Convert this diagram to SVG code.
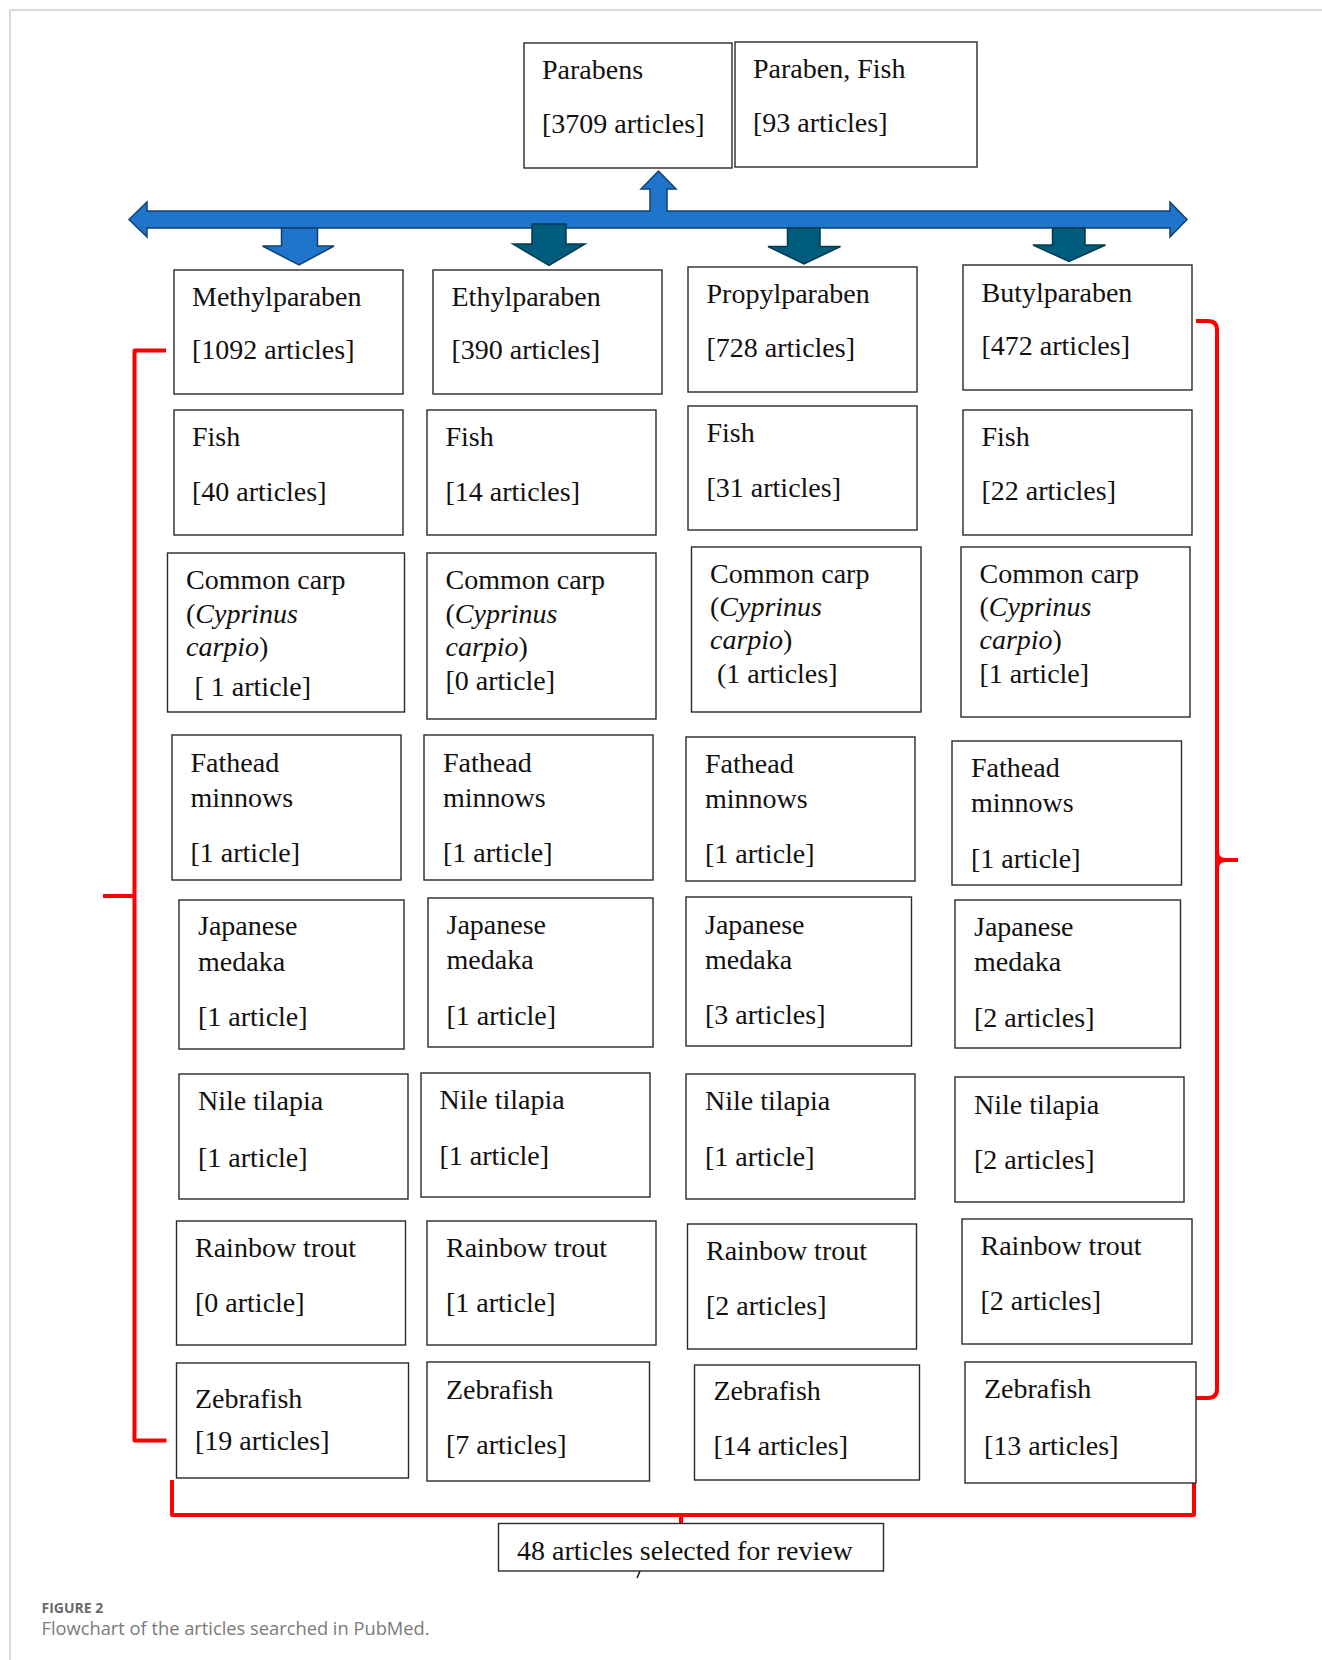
<svg xmlns="http://www.w3.org/2000/svg" width="1322" height="1660" viewBox="0 0 1322 1660">
<style>
.box{fill:#fff;stroke:#2a2a2a;stroke-width:1.4}
.t{font-family:"Liberation Serif","Times New Roman",serif;font-size:28px;fill:#111}
.i{font-style:italic}
.red{fill:none;stroke:#ff0000;stroke-width:4;stroke-linejoin:round}
.ab{fill:#1f75cc;stroke:#123f6e;stroke-width:1.5}
.ad{fill:#005c7c;stroke:#003a50;stroke-width:1.5}
.cap1{font-family:"Open Sans","Noto Sans",sans-serif;font-size:14px;font-weight:bold;fill:#6a6a6a}
.cap2{font-family:"Open Sans","Noto Sans",sans-serif;font-size:18.3px;fill:#7a7a7a}
</style>
<rect width="1322" height="1660" fill="#fff"/>
<path d="M10,1660 V10 H1322" fill="none" stroke="#cfcfcf" stroke-width="1.5"/>

<g id="connectors">
  <path class="ab" d="M129,219.5 L147,202 V211 H650 V189 H641 L658.5,171 L676,189 H667 V211 H1170 V202 L1187,219.5 L1170,237 V228 H147 V237 Z"/>
  <path class="ab" d="M281.5,228 H317.5 V246 H334 L299,265 L262.5,246 H281.5 Z"/>
  <path class="ad" d="M532,224 H566 V244 H585 L549,265.5 L513,244 H532 Z"/>
  <path class="ad" d="M787.5,228 H820 V246.5 H840.5 L804,264 L768,246.5 H787.5 Z"/>
  <path class="ad" d="M1052.5,228 H1085 V245 H1105.5 L1069,261.5 L1033,245 H1052.5 Z"/>
  <path class="red" d="M166,350.5 H134.5 V1440.5 H166.5"/>
  <path class="red" d="M134.5,896 H103"/>
  <path class="red" d="M1196,321 H1208 Q1217,321 1217,330 V1389 Q1217,1398 1208,1398 H1196"/>
  <path class="red" d="M1217,852 Q1217,860 1226,860 H1238 M1217,868 Q1217,860 1226,860" stroke-width="3.5"/>
  <path class="red" d="M172,1480 V1515 H1194 V1480 M681,1515 V1523.5"/>
  <path d="M640,1571 L637,1578" stroke="#111" stroke-width="1.5"/>
</g>

<g id="n-parabens"><rect class="box" x="524" y="43" width="208" height="125"/>
<text class="t" x="542" y="79">Parabens</text><text class="t" x="542" y="133">[3709 articles]</text></g>
<g id="n-paraben-fish"><rect class="box" x="735" y="42" width="242" height="125"/>
<text class="t" x="753" y="78">Paraben, Fish</text><text class="t" x="753" y="132">[93 articles]</text></g>

<g id="n-methyl"><rect class="box" x="174" y="270" width="229" height="124"/>
<text class="t" x="192" y="306">Methylparaben</text><text class="t" x="192" y="359">[1092 articles]</text></g>
<g id="n-ethyl"><rect class="box" x="433" y="270" width="229" height="124"/>
<text class="t" x="451.5" y="306">Ethylparaben</text><text class="t" x="451.5" y="359">[390 articles]</text></g>
<g id="n-propyl"><rect class="box" x="688" y="267" width="229" height="125"/>
<text class="t" x="706.5" y="302.5">Propylparaben</text><text class="t" x="706.5" y="356.5">[728 articles]</text></g>
<g id="n-butyl"><rect class="box" x="963" y="265" width="229" height="125"/>
<text class="t" x="981.5" y="301.5">Butylparaben</text><text class="t" x="981.5" y="355">[472 articles]</text></g>

<g id="n-fish1"><rect class="box" x="174" y="410" width="229" height="125"/>
<text class="t" x="192" y="446">Fish</text><text class="t" x="192" y="500.5">[40 articles]</text></g>
<g id="n-fish2"><rect class="box" x="427" y="410" width="229" height="125"/>
<text class="t" x="445.5" y="446">Fish</text><text class="t" x="445.5" y="500.5">[14 articles]</text></g>
<g id="n-fish3"><rect class="box" x="688" y="406" width="229" height="124"/>
<text class="t" x="706.5" y="441.5">Fish</text><text class="t" x="706.5" y="496.5">[31 articles]</text></g>
<g id="n-fish4"><rect class="box" x="963" y="410" width="229" height="125"/>
<text class="t" x="981.5" y="445.5">Fish</text><text class="t" x="981.5" y="500">[22 articles]</text></g>

<g id="n-carp1"><rect class="box" x="167.5" y="553" width="237" height="159"/>
<text class="t" x="186" y="589">Common carp</text><text class="t" x="186" y="622.5">(<tspan class="i">Cyprinus</tspan></text><text class="t" x="186" y="655.5"><tspan class="i">carpio</tspan>)</text><text class="t" x="194.5" y="696">[ 1 article]</text></g>
<g id="n-carp2"><rect class="box" x="427" y="553" width="229" height="166"/>
<text class="t" x="445.5" y="589">Common carp</text><text class="t" x="445.5" y="622.5">(<tspan class="i">Cyprinus</tspan></text><text class="t" x="445.5" y="655.5"><tspan class="i">carpio</tspan>)</text><text class="t" x="445.5" y="690">[0 article]</text></g>
<g id="n-carp3"><rect class="box" x="691.5" y="547" width="229.5" height="165"/>
<text class="t" x="710" y="583">Common carp</text><text class="t" x="710" y="616">(<tspan class="i">Cyprinus</tspan></text><text class="t" x="710" y="648.5"><tspan class="i">carpio</tspan>)</text><text class="t" x="717" y="682.5">(1 articles]</text></g>
<g id="n-carp4"><rect class="box" x="961" y="547" width="229" height="170"/>
<text class="t" x="979.5" y="583">Common carp</text><text class="t" x="979.5" y="616">(<tspan class="i">Cyprinus</tspan></text><text class="t" x="979.5" y="648.5"><tspan class="i">carpio</tspan>)</text><text class="t" x="979.5" y="682.5">[1 article]</text></g>

<g id="n-fathead1"><rect class="box" x="172" y="735" width="229" height="145"/>
<text class="t" x="190.5" y="771.5">Fathead</text><text class="t" x="190.5" y="806.5">minnows</text><text class="t" x="190.5" y="861.5">[1 article]</text></g>
<g id="n-fathead2"><rect class="box" x="424" y="735" width="229" height="145"/>
<text class="t" x="443" y="771.5">Fathead</text><text class="t" x="443" y="806.5">minnows</text><text class="t" x="443" y="861.5">[1 article]</text></g>
<g id="n-fathead3"><rect class="box" x="686" y="737" width="229" height="144"/>
<text class="t" x="705" y="772.5">Fathead</text><text class="t" x="705" y="808">minnows</text><text class="t" x="705" y="862.5">[1 article]</text></g>
<g id="n-fathead4"><rect class="box" x="952" y="741" width="229.5" height="144"/>
<text class="t" x="971" y="777">Fathead</text><text class="t" x="971" y="811.5">minnows</text><text class="t" x="971" y="867.5">[1 article]</text></g>

<g id="n-medaka1"><rect class="box" x="179" y="900" width="225" height="149"/>
<text class="t" x="198" y="935">Japanese</text><text class="t" x="198" y="970.5">medaka</text><text class="t" x="198" y="1026">[1 article]</text></g>
<g id="n-medaka2"><rect class="box" x="428" y="898" width="225" height="149"/>
<text class="t" x="446.5" y="933.5">Japanese</text><text class="t" x="446.5" y="968.5">medaka</text><text class="t" x="446.5" y="1025">[1 article]</text></g>
<g id="n-medaka3"><rect class="box" x="686" y="897" width="225.5" height="149"/>
<text class="t" x="705" y="933.5">Japanese</text><text class="t" x="705" y="968.5">medaka</text><text class="t" x="705" y="1023.5">[3 articles]</text></g>
<g id="n-medaka4"><rect class="box" x="955" y="900" width="225.5" height="148"/>
<text class="t" x="974" y="936">Japanese</text><text class="t" x="974" y="970.5">medaka</text><text class="t" x="974" y="1026.5">[2 articles]</text></g>

<g id="n-nile1"><rect class="box" x="179" y="1074" width="229" height="125"/>
<text class="t" x="198" y="1110">Nile tilapia</text><text class="t" x="198" y="1166.5">[1 article]</text></g>
<g id="n-nile2"><rect class="box" x="421" y="1073" width="229" height="124"/>
<text class="t" x="439.5" y="1108.5">Nile tilapia</text><text class="t" x="439.5" y="1165">[1 article]</text></g>
<g id="n-nile3"><rect class="box" x="686" y="1074" width="229" height="125"/>
<text class="t" x="705" y="1110">Nile tilapia</text><text class="t" x="705" y="1166">[1 article]</text></g>
<g id="n-nile4"><rect class="box" x="955" y="1077" width="229" height="125"/>
<text class="t" x="974" y="1113.5">Nile tilapia</text><text class="t" x="974" y="1168.5">[2 articles]</text></g>

<g id="n-trout1"><rect class="box" x="176.5" y="1221" width="229" height="124"/>
<text class="t" x="195" y="1256.5">Rainbow trout</text><text class="t" x="195" y="1311.5">[0 article]</text></g>
<g id="n-trout2"><rect class="box" x="427" y="1221" width="229" height="124"/>
<text class="t" x="446" y="1256.5">Rainbow trout</text><text class="t" x="446" y="1311.5">[1 article]</text></g>
<g id="n-trout3"><rect class="box" x="687.5" y="1224" width="229" height="125"/>
<text class="t" x="706" y="1260">Rainbow trout</text><text class="t" x="706" y="1315">[2 articles]</text></g>
<g id="n-trout4"><rect class="box" x="962" y="1219" width="230" height="125"/>
<text class="t" x="980.5" y="1255">Rainbow trout</text><text class="t" x="980.5" y="1310">[2 articles]</text></g>

<g id="n-zebra1"><rect class="box" x="176.5" y="1363" width="232" height="115"/>
<text class="t" x="195" y="1407.5">Zebrafish</text><text class="t" x="195" y="1450">[19 articles]</text></g>
<g id="n-zebra2"><rect class="box" x="427" y="1362" width="222.5" height="119"/>
<text class="t" x="446" y="1398.5">Zebrafish</text><text class="t" x="446" y="1453.5">[7 articles]</text></g>
<g id="n-zebra3"><rect class="box" x="694.5" y="1365" width="225" height="115"/>
<text class="t" x="713.5" y="1400">Zebrafish</text><text class="t" x="713.5" y="1455">[14 articles]</text></g>
<g id="n-zebra4"><rect class="box" x="965" y="1362" width="231" height="121"/>
<text class="t" x="984" y="1397.5">Zebrafish</text><text class="t" x="984" y="1455">[13 articles]</text></g>

<g id="n-selected"><rect class="box" x="498.5" y="1523.5" width="385" height="47.5"/>
<text class="t" x="517" y="1559.5">48 articles selected for review</text></g>

<text class="cap1" x="41.5" y="1613">FIGURE 2</text>
<text class="cap2" x="41.5" y="1635">Flowchart of the articles searched in PubMed.</text>
</svg>
